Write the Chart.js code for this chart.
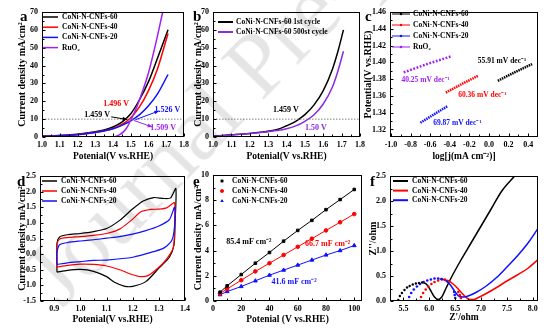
<!DOCTYPE html>
<html>
<head>
<meta charset="utf-8">
<script src="https://cdn.jsdelivr.net/npm/chart.js@4.4.1/dist/chart.umd.min.js"></script>
<style>
html, body { margin: 0; padding: 0; background: #fff; }
#fig { position: relative; width: 553px; height: 335px; overflow: hidden; }
#fig canvas { position: absolute; left: 0; top: 0; }
#wm { position: absolute; left: 60px; top: 307px; transform-origin: 0 0; transform: rotate(-46deg) translateY(-80%);
      font: 90px 'Liberation Serif', serif; line-height: 1; color: rgba(0,0,0,0.1); white-space: nowrap; pointer-events: none; }
</style>
</head>
<body>
<div id="fig">
  <canvas id="panel-a" width="553" height="335"></canvas>
  <canvas id="panel-b" width="553" height="335"></canvas>
  <canvas id="panel-c" width="553" height="335"></canvas>
  <canvas id="panel-d" width="553" height="335"></canvas>
  <canvas id="panel-e" width="553" height="335"></canvas>
  <canvas id="panel-f" width="553" height="335"></canvas>
  <div id="wm">Journal Pre-proof</div>
</div>
<script>
// --- Data ---
const sampleNames = ['CoNi-N-CNFs-60', 'CoNi-N-CNFs-40', 'CoNi-N-CNFs-20'];
const refName = 'RuO₂';
const cycleNames = ['CoNi-N-CNFs-60 1st cycle', 'CoNi-N-CNFs-60 500st cycle'];

// a: LSV polarisation curves
const lsvPotential = [1.0, 1.1, 1.2, 1.3, 1.35, 1.4, 1.45, 1.5, 1.55, 1.6, 1.65, 1.71];
const lsv60 = [0.5, 0.9, 1.6, 2.9, 3.9, 5.6, 8.3, 13, 21, 31, 44, 60];
const lsv40 = [0.4, 0.8, 1.4, 2.6, 3.5, 4.8, 7.0, 10.8, 17, 26, 38, 58];
const lsv20 = [0.3, 0.7, 1.3, 2.5, 3.4, 4.6, 6.5, 9.0, 12.5, 17.5, 24, 35];
const ruo2Potential = [1.0, 1.2, 1.38, 1.41, 1.44, 1.46, 1.48, 1.5, 1.52, 1.55, 1.6, 1.64, 1.68];
const lsvRuO2 = [0, 0, 0, 0.2, 1.5, 3, 5.5, 9.5, 13.5, 21, 36, 52, 70];
const refCurrent = 10;
const lsvTicksX = [1.0, 1.1, 1.2, 1.3, 1.4, 1.5, 1.6, 1.7, 1.8];
const lsvTicksY = [0, 10, 20, 30, 40, 50, 60, 70];

// b: stability
const cyclePotential = [1.0, 1.1, 1.2, 1.3, 1.35, 1.4, 1.45, 1.5, 1.55, 1.6, 1.65, 1.68, 1.71];
const cycle1st = [0.5, 1.2, 2.0, 3.2, 4.2, 6.3, 8.8, 12.5, 18, 26, 38, 48, 60];
const cycle500 = [0.4, 1.1, 1.9, 3.0, 3.6, 4.6, 6.2, 8.8, 12.5, 18.5, 28, 37, 48];

// c: Tafel
const tafel60X = [0.09, 0.26, 0.44];
const tafel60Y = [1.378, 1.388, 1.398];
const tafel40X = [-0.44, -0.28, -0.11];
const tafel40Y = [1.364, 1.374, 1.384];
const tafel20X = [-0.70, -0.56, -0.42];
const tafel20Y = [1.328, 1.338, 1.348];
const tafelRuX = [-0.87, -0.63, -0.39];
const tafelRuY = [1.388, 1.398, 1.407];
const tafelTicksX = [-1.0, -0.8, -0.6, -0.4, -0.2, 0.0, 0.2, 0.4];
const tafelTicksY = [1.32, 1.34, 1.36, 1.38, 1.40, 1.42, 1.44, 1.46];

// d: cyclic voltammetry loops
const cv60X = [0.91, 0.91, 0.92, 0.95, 1.0, 1.05, 1.1, 1.15, 1.2, 1.24, 1.28, 1.32, 1.345, 1.365, 1.362, 1.358, 1.34, 1.3, 1.25, 1.2, 1.17, 1.13, 1.1, 1.05, 1.0, 0.95, 0.91];
const cv60Y = [-0.58, 0.35, 0.55, 0.62, 0.66, 0.72, 0.82, 1.08, 1.45, 1.7, 1.81, 1.78, 1.8, 2.1, 1.0, 0.3, -0.1, -0.45, -0.88, -1.03, -1.03, -0.9, -0.72, -0.55, -0.49, -0.52, -0.58];
const cv40X = [0.91, 0.91, 0.92, 0.95, 1.0, 1.05, 1.1, 1.15, 1.2, 1.23, 1.27, 1.3, 1.33, 1.36, 1.36, 1.355, 1.33, 1.3, 1.26, 1.23, 1.2, 1.15, 1.1, 1.05, 1.0, 0.95, 0.91];
const cv40Y = [-0.42, 0.3, 0.48, 0.53, 0.56, 0.6, 0.66, 0.8, 1.12, 1.35, 1.43, 1.44, 1.48, 1.64, 0.8, 0.2, -0.15, -0.42, -0.68, -0.72, -0.66, -0.5, -0.38, -0.33, -0.32, -0.36, -0.42];
const cv20X = [0.91, 0.91, 0.92, 0.95, 1.0, 1.05, 1.1, 1.15, 1.2, 1.25, 1.3, 1.34, 1.36, 1.36, 1.35, 1.32, 1.28, 1.2, 1.1, 1.05, 1.0, 0.95, 0.91];
const cv20Y = [-0.33, 0.05, 0.3, 0.37, 0.42, 0.46, 0.51, 0.56, 0.64, 0.75, 0.9, 1.1, 1.5, 0.9, 0.45, 0.2, 0.08, -0.1, -0.19, -0.2, -0.24, -0.28, -0.33];
const cvTicksX = [0.9, 1.0, 1.1, 1.2, 1.3, 1.4];
const cvTicksY = [-1.5, -1.0, -0.5, 0.0, 0.5, 1.0, 1.5, 2.0, 2.5];

// e: double-layer capacitance
const scanRate = [5, 10, 20, 30, 40, 50, 60, 70, 80, 90, 100];
const cdl60 = [0.7, 1.2, 2.1, 3.0, 3.85, 4.75, 5.6, 6.4, 7.25, 8.05, 8.85];
const cdl40 = [0.6, 0.95, 1.65, 2.35, 3.0, 3.65, 4.3, 4.95, 5.6, 6.25, 6.9];
const cdl20 = [0.5, 0.75, 1.15, 1.6, 2.05, 2.45, 2.85, 3.25, 3.65, 4.0, 4.4];
const cdlTicksX = [0, 20, 40, 60, 80, 100];
const cdlTicksY = [0, 2, 4, 6, 8, 10];

// f: Nyquist plots (dotted = measured points, solid = line)
const eis60DotX = [5.40, 5.43, 5.47, 5.52, 5.57, 5.62, 5.68, 5.74, 5.80, 5.86];
const eis60DotY = [0.02, 0.10, 0.16, 0.22, 0.27, 0.30, 0.33, 0.35, 0.36, 0.37];
const eis40DotX = [5.82, 5.84, 5.88, 5.93, 5.98, 6.04, 6.10, 6.17, 6.24, 6.30, 6.56, 6.59, 6.61, 6.62];
const eis40DotY = [0.0, 0.08, 0.16, 0.23, 0.29, 0.34, 0.38, 0.41, 0.43, 0.43, 0.18, 0.12, 0.06, 0.0];
const eis20DotX = [5.59, 5.61, 5.65, 5.70, 5.76, 5.82, 5.89, 5.96, 6.03, 6.10, 6.17, 6.24, 6.48, 6.49, 6.50, 6.50];
const eis20DotY = [0.0, 0.08, 0.16, 0.23, 0.29, 0.34, 0.38, 0.41, 0.43, 0.45, 0.45, 0.44, 0.18, 0.12, 0.06, 0.0];
const eis60X = [5.88, 5.95, 6.02, 6.1, 6.17, 6.24, 6.32, 6.43, 6.6, 6.8, 7.0, 7.2, 7.4, 7.65];
const eis60Y = [0.37, 0.33, 0.22, 0.08, 0.03, 0.08, 0.25, 0.48, 0.8, 1.15, 1.5, 1.85, 2.2, 2.5];
const eis40X = [6.3, 6.38, 6.46, 6.54, 6.62, 6.7, 6.78, 6.86, 6.95, 7.1, 7.3, 7.5, 7.7, 7.9, 8.1];
const eis40Y = [0.42, 0.4, 0.34, 0.26, 0.17, 0.08, 0.03, 0.03, 0.07, 0.15, 0.27, 0.4, 0.52, 0.65, 0.83];
const eis20X = [6.2, 6.3, 6.4, 6.5, 6.58, 6.66, 6.75, 6.9, 7.1, 7.3, 7.5, 7.7, 7.9, 8.1];
const eis20Y = [0.44, 0.42, 0.33, 0.18, 0.09, 0.08, 0.1, 0.17, 0.3, 0.47, 0.68, 0.9, 1.15, 1.45];
const eisTicksX = [5.5, 6.0, 6.5, 7.0, 7.5, 8.0];
const eisTicksY = [0.0, 0.5, 1.0, 1.5, 2.0, 2.5];

// --- Styling ---
const SERIF = "'Liberation Serif', 'Times New Roman', serif";
const BLACK = '#000000', RED = '#ff0000', BLUE = '#1010ff', PURPLE = '#a020f0', VIOLET = '#8a2be2';
const sampleColors = [BLACK, RED, BLUE];
const Y_W = 30, X_H = 28;

Chart.defaults.font.family = SERIF;
Chart.defaults.font.weight = 'bold';
Chart.defaults.color = '#000';

const pts = (xs, ys) => xs.map((x, i) => ({ x: x, y: ys[i] }));

function curve(xs, ys, color, width, extra) {
    return Object.assign({
        data: pts(xs, ys), showLine: true, borderColor: color, backgroundColor: color,
        borderWidth: width, pointRadius: 0, cubicInterpolationMode: 'monotone'
    }, extra || {});
}

function markers(xs, ys, color, style, radius) {
    return {
        data: pts(xs, ys), showLine: false, pointStyle: style, pointRadius: radius,
        backgroundColor: color, borderColor: color, borderWidth: 0
    };
}

function arrowHead(ctx, x1, y1, x2, y2) {
    const a = Math.atan2(y2 - y1, x2 - x1);
    ctx.beginPath();
    ctx.moveTo(x2, y2);
    ctx.lineTo(x2 - 5 * Math.cos(a - 0.4), y2 - 5 * Math.sin(a - 0.4));
    ctx.lineTo(x2 - 5 * Math.cos(a + 0.4), y2 - 5 * Math.sin(a + 0.4));
    ctx.closePath();
    ctx.fill();
}

// frame, inward ticks, legend, notes and panel letter
const panelDecor = {
    id: 'panelDecor',
    afterDatasetsDraw(chart, args, opts) {
        const { ctx, chartArea: ca, scales } = chart;
        const xs = scales.x, ys = scales.y;
        ctx.save();

        (opts.arrows || []).forEach(a => {
            const x1 = xs.getPixelForValue(a[0]), y1 = ys.getPixelForValue(a[1]);
            const x2 = xs.getPixelForValue(a[2]), y2 = ys.getPixelForValue(a[3]);
            ctx.strokeStyle = a[4]; ctx.fillStyle = a[4]; ctx.lineWidth = 1;
            ctx.beginPath(); ctx.moveTo(x1, y1); ctx.lineTo(x2, y2); ctx.stroke();
            arrowHead(ctx, x1, y1, x2, y2);
        });

        ctx.textAlign = 'center'; ctx.textBaseline = 'middle';
        ctx.font = `bold ${opts.noteSize || 8}px ${SERIF}`;
        (opts.notes || []).forEach(n => {
            ctx.fillStyle = n[3];
            ctx.fillText(n[0], xs.getPixelForValue(n[1]), ys.getPixelForValue(n[2]));
        });

        // frame
        const l = Math.round(ca.left) + 0.5, t = Math.round(ca.top) + 0.5;
        const r = Math.round(ca.right) - 0.5, b = Math.round(ca.bottom) - 0.5;
        ctx.strokeStyle = '#000'; ctx.lineWidth = 1;
        ctx.strokeRect(l, t, r - l, b - t);

        // major and minor ticks pointing inwards
        ctx.beginPath();
        const xt = xs.ticks.map(tk => tk.value), yt = ys.ticks.map(tk => tk.value);
        xt.forEach((v, i) => {
            const px = Math.round(xs.getPixelForValue(v)) + 0.5;
            ctx.moveTo(px, b); ctx.lineTo(px, b - 3);
            if (i < xt.length - 1) {
                const mx = Math.round(xs.getPixelForValue((v + xt[i + 1]) / 2)) + 0.5;
                ctx.moveTo(mx, b); ctx.lineTo(mx, b - 2);
            }
        });
        yt.forEach((v, i) => {
            const py = Math.round(ys.getPixelForValue(v)) + 0.5;
            ctx.moveTo(l, py); ctx.lineTo(l + 3, py);
            if (i < yt.length - 1) {
                const my = Math.round(ys.getPixelForValue((v + yt[i + 1]) / 2)) + 0.5;
                ctx.moveTo(l, my); ctx.lineTo(l + 2, my);
            }
        });
        ctx.stroke();

        // legend
        const lg = opts.legend;
        if (lg) {
            ctx.font = `bold ${lg.size || 7.5}px ${SERIF}`;
            ctx.textAlign = 'left';
            lg.items.forEach((it, i) => {
                const y = lg.y + i * lg.dy;
                ctx.strokeStyle = it.color; ctx.fillStyle = it.color;
                if (lg.kind !== 'point') {
                    ctx.lineWidth = lg.lineWidth || 1.5;
                    ctx.beginPath(); ctx.moveTo(lg.x0, y); ctx.lineTo(lg.x1, y); ctx.stroke();
                }
                if (lg.kind !== 'line') {
                    Chart.helpers.drawPoint(ctx, { pointStyle: it.style || 'rect', radius: lg.radius || 2, rotation: 0, borderWidth: 0 },
                        (lg.x0 + lg.x1) / 2, y);
                    ctx.fill();
                }
                ctx.fillStyle = '#000';
                ctx.fillText(it.label, lg.textX, y);
            });
        }

        if (opts.letter) {
            ctx.font = `bold 15px ${SERIF}`;
            ctx.textAlign = 'left'; ctx.textBaseline = 'alphabetic'; ctx.fillStyle = '#000';
            ctx.fillText(opts.letter[0], opts.letter[1], opts.letter[2]);
        }
        ctx.restore();
    }
};
Chart.register(panelDecor);

function makePanel(id, p) {
    const [L, T, R, B] = p.rect;
    const yFont = { family: SERIF, weight: 'bold', size: 10 };
    const xFont = { family: SERIF, weight: 'bold', size: 9.5 };
    const tickFont = { family: SERIF, weight: 'bold', size: 8 };
    new Chart(document.getElementById(id), {
        type: 'scatter',
        data: { datasets: p.datasets },
        options: {
            responsive: false,
            animation: false,
            events: [],
            layout: { padding: { left: L - Y_W, top: T, right: 553 - R, bottom: 335 - B - X_H } },
            scales: {
                x: {
                    type: 'linear', min: p.x.min, max: p.x.max,
                    afterFit: s => { s.height = X_H; },
                    afterBuildTicks: s => { s.ticks = p.x.ticks.map(v => ({ value: v })); },
                    grid: { display: false, drawTicks: false },
                    border: { display: false },
                    ticks: { autoSkip: false, maxRotation: 0, padding: 3, color: '#000', font: tickFont, callback: p.x.fmt },
                    title: {
                        display: true, text: p.x.title, color: '#000', font: xFont,
                        padding: { top: 0, bottom: B + X_H - p.x.titleY - 5.7 }
                    }
                },
                y: {
                    type: 'linear', min: p.y.min, max: p.y.max,
                    afterFit: s => { s.width = Y_W; },
                    afterBuildTicks: s => { s.ticks = p.y.ticks.map(v => ({ value: v })); },
                    grid: { display: false, drawTicks: false },
                    border: { display: false },
                    ticks: { autoSkip: false, padding: 4, color: '#000', font: tickFont, callback: p.y.fmt },
                    title: {
                        display: true, text: p.y.title, color: '#000', font: yFont,
                        padding: { top: p.y.titleX - (L - Y_W) - 6, bottom: 0 }
                    }
                }
            },
            plugins: {
                legend: { display: false },
                tooltip: { enabled: false },
                panelDecor: p.decor
            }
        }
    });
}

const fix1 = v => v.toFixed(1);
const fix2 = v => v.toFixed(2);
const plain = v => String(v);

// a
makePanel('panel-a', {
    rect: [42, 12, 184, 137],
    x: { min: 1.0, max: 1.8, ticks: lsvTicksX, fmt: fix1, title: 'Potenial(V vs.RHE)', titleY: 157 },
    y: { min: 0, max: 70, ticks: lsvTicksY, fmt: plain, title: 'Current density mA/cm²', titleX: 22 },
    datasets: [
        curve([1.0, 1.8], [refCurrent, refCurrent], '#808080', 1, { borderDash: [1.5, 1.5], cubicInterpolationMode: 'default' }),
        curve(ruo2Potential, lsvRuO2, PURPLE, 1.5),
        curve(lsvPotential, lsv20, BLUE, 1.5),
        curve(lsvPotential, lsv40, RED, 1.5),
        curve(lsvPotential, lsv60, BLACK, 1.5)
    ],
    decor: {
        letter: ['a', 20, 21],
        notes: [['1.496 V', 1.417, 18.3, RED], ['1.459 V', 1.31, 12.1, BLACK], ['1.526 V', 1.706, 15.4, BLUE], ['1.509 V', 1.683, 5.0, PURPLE]],
        arrows: [[1.39, 11.3, 1.48, 9.8, BLACK], [1.527, 9.7, 1.659, 14.6, BLUE], [1.517, 9.3, 1.621, 5.6, PURPLE]],
        legend: { kind: 'line', x0: 43, x1: 58, textX: 62, y: 17, dy: 10.2,
                  items: sampleNames.map((n, i) => ({ label: n, color: sampleColors[i] })).concat([{ label: refName, color: PURPLE }]) }
    }
});

// b
makePanel('panel-b', {
    rect: [213, 12, 360, 137],
    x: { min: 1.0, max: 1.8, ticks: lsvTicksX, fmt: fix1, title: 'Potenial(V vs.RHE)', titleY: 157 },
    y: { min: 0, max: 70, ticks: lsvTicksY, fmt: plain, title: 'Current density mA/cm²', titleX: 198 },
    datasets: [
        curve([1.0, 1.8], [refCurrent, refCurrent], '#808080', 1, { borderDash: [1.5, 1.5], cubicInterpolationMode: 'default' }),
        curve(cyclePotential, cycle500, VIOLET, 1.5),
        curve(cyclePotential, cycle1st, BLACK, 1.5)
    ],
    decor: {
        letter: ['b', 193, 21],
        notes: [['1.459 V', 1.397, 15, BLACK], ['1.50 V', 1.56, 5.0, VIOLET]],
        legend: { kind: 'line', x0: 218, x1: 233, textX: 236, y: 22, dy: 10, lineWidth: 2,
                  items: [{ label: cycleNames[0], color: BLACK }, { label: cycleNames[1], color: VIOLET }] }
    }
});

// c
const tafelLine = (xs, ys, color, dash) => curve(xs, ys, color, 2.5, { borderDash: dash, cubicInterpolationMode: 'default', tension: 0 });
makePanel('panel-c', {
    rect: [390, 12, 538, 137],
    x: { min: -1.01, max: 0.5, ticks: tafelTicksX, fmt: fix1, title: 'log[j(mA cm⁻²)]', titleY: 157 },
    y: { min: 1.311, max: 1.46, ticks: tafelTicksY, fmt: fix2, title: 'Potential(V vs.RHE)', titleX: 368 },
    datasets: [
        tafelLine(tafel60X, tafel60Y, BLACK, [1.5, 0.8]),
        tafelLine(tafel40X, tafel40Y, RED, [1.5, 0.8]),
        tafelLine(tafel20X, tafel20Y, BLUE, [1.5, 0.8]),
        tafelLine(tafelRuX, tafelRuY, PURPLE, [1.8, 1.6])
    ],
    decor: {
        letter: ['c', 365, 21],
        noteSize: 7.5,
        notes: [['55.91 mV dec⁻¹', 0.133, 1.4013, BLACK], ['60.36 mV dec⁻¹', -0.067, 1.3608, RED],
                ['40.25 mV dec⁻¹', -0.646, 1.3787, PURPLE], ['69.87 mV dec⁻¹', -0.323, 1.3279, BLUE]],
        legend: { kind: 'linepoint', x0: 392, x1: 410, textX: 413, y: 14, dy: 11, lineWidth: 1, radius: 1.5,
                  items: sampleNames.map((n, i) => ({ label: n, color: sampleColors[i] })).concat([{ label: refName, color: PURPLE }]) }
    }
});

// d
const cvLoop = (xs, ys, color) => curve(xs, ys, color, 1.2, { cubicInterpolationMode: 'default', tension: 0.25 });
makePanel('panel-d', {
    rect: [40, 176, 185, 301],
    x: { min: 0.845, max: 1.4, ticks: cvTicksX, fmt: fix1, title: 'Potenial(V vs.RHE)', titleY: 320 },
    y: { min: -1.5, max: 2.5, ticks: cvTicksY, fmt: fix1, title: 'Current density mA/cm²', titleX: 22 },
    datasets: [cvLoop(cv20X, cv20Y, BLUE), cvLoop(cv40X, cv40Y, RED), cvLoop(cv60X, cv60Y, BLACK)],
    decor: {
        letter: ['d', 17, 186],
        legend: { kind: 'line', x0: 42, x1: 57, textX: 61, y: 181, dy: 10,
                  items: sampleNames.map((n, i) => ({ label: n, color: sampleColors[i] })) }
    }
});

// e
const cdlSeries = (ys, color, style, r) => Object.assign(markers(scanRate, ys, color, style, r),
    { showLine: true, borderWidth: 1, tension: 0 });
makePanel('panel-e', {
    rect: [213, 175, 362, 301],
    x: { min: 0, max: 105.5, ticks: cdlTicksX, fmt: plain, title: 'Potenial (V vs.RHE)', titleY: 320 },
    y: { min: 0, max: 10, ticks: cdlTicksY, fmt: plain, title: 'Current density mA/cm²', titleX: 198 },
    datasets: [cdlSeries(cdl60, BLACK, 'rect', 1.8), cdlSeries(cdl40, RED, 'circle', 1.8), cdlSeries(cdl20, BLUE, 'triangle', 2.2)],
    decor: {
        letter: ['e', 193, 186],
        notes: [['85.4 mF cm⁻²', 25.4, 4.7, BLACK], ['66.7 mF cm⁻²', 81.2, 4.5, RED], ['41.6 mF cm⁻²', 57.4, 1.5, BLUE]],
        legend: { kind: 'point', x0: 219, x1: 225, textX: 232, y: 181, dy: 10, radius: 1.8,
                  items: sampleNames.map((n, i) => ({ label: n, color: sampleColors[i], style: ['rect', 'circle', 'triangle'][i] })) }
    }
});

// f
makePanel('panel-f', {
    rect: [390, 176, 538, 301],
    x: { min: 5.24, max: 8.1, ticks: eisTicksX, fmt: fix1, title: "Z'/ohm", titleY: 318 },
    y: { min: 0, max: 2.5, ticks: eisTicksY, fmt: fix1, title: "Z''/ohm", titleX: 373 },
    datasets: [
        markers(eis60DotX, eis60DotY, BLACK, 'circle', 1.2),
        markers(eis20DotX, eis20DotY, BLUE, 'circle', 1.3),
        markers(eis40DotX, eis40DotY, RED, 'circle', 1.3),
        curve(eis20X, eis20Y, BLUE, 1.5),
        curve(eis40X, eis40Y, RED, 1.5),
        curve(eis60X, eis60Y, BLACK, 1.5)
    ],
    decor: {
        letter: ['f', 370, 186],
        legend: { kind: 'line', x0: 393, x1: 408, textX: 412, y: 181, dy: 9.6, lineWidth: 2,
                  items: sampleNames.map((n, i) => ({ label: n, color: sampleColors[i] })) }
    }
});
</script>
</body>
</html>
